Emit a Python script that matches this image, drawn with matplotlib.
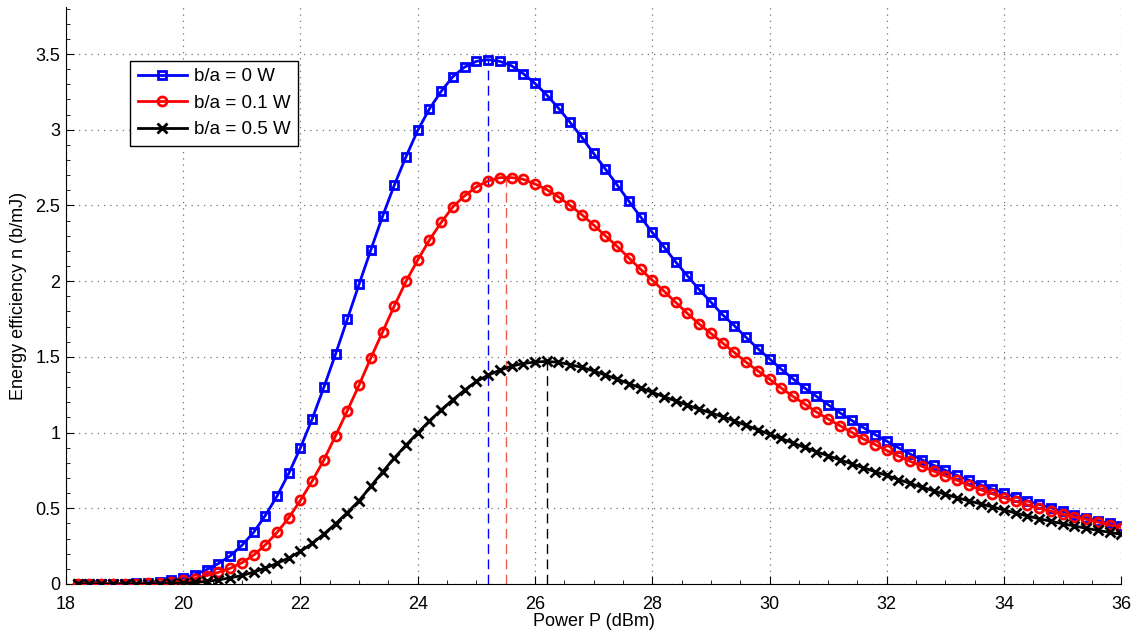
import numpy as np
import matplotlib
matplotlib.use("Agg")
import matplotlib.pyplot as plt
from matplotlib.ticker import MultipleLocator, FuncFormatter

plt.rcParams['font.family'] = ['Liberation Sans', 'DejaVu Sans']

# transmit power grid (dBm)
power_dbm = [18.2, 18.4, 18.6, 18.8, 19.0, 19.2, 19.4, 19.6, 19.8, 20.0,
             20.2, 20.4, 20.6, 20.8, 21.0, 21.2, 21.4, 21.6, 21.8, 22.0,
             22.2, 22.4, 22.6, 22.8, 23.0, 23.2, 23.4, 23.6, 23.8, 24.0,
             24.2, 24.4, 24.6, 24.8, 25.0, 25.2, 25.4, 25.6, 25.8, 26.0,
             26.2, 26.4, 26.6, 26.8, 27.0, 27.2, 27.4, 27.6, 27.8, 28.0,
             28.2, 28.4, 28.6, 28.8, 29.0, 29.2, 29.4, 29.6, 29.8, 30.0,
             30.2, 30.4, 30.6, 30.8, 31.0, 31.2, 31.4, 31.6, 31.8, 32.0,
             32.2, 32.4, 32.6, 32.8, 33.0, 33.2, 33.4, 33.6, 33.8, 34.0,
             34.2, 34.4, 34.6, 34.8, 35.0, 35.2, 35.4, 35.6, 35.8, 36.0]

# energy efficiency (b/mJ) for each b/a
ee_ba_0 = [0.000, 0.001, 0.001, 0.002, 0.003, 0.005, 0.008, 0.013, 0.024, 0.040,
           0.062, 0.095, 0.135, 0.185, 0.255, 0.340, 0.452, 0.580, 0.730, 0.900,
           1.090, 1.300, 1.520, 1.750, 1.980, 2.206, 2.428, 2.634, 2.822, 2.996,
           3.138, 3.254, 3.351, 3.414, 3.452, 3.463, 3.452, 3.423, 3.371, 3.306,
           3.230, 3.143, 3.048, 2.950, 2.844, 2.741, 2.636, 2.529, 2.425, 2.322,
           2.226, 2.127, 2.035, 1.945, 1.862, 1.778, 1.706, 1.629, 1.555, 1.487,
           1.419, 1.355, 1.294, 1.239, 1.184, 1.131, 1.081, 1.033, 0.987, 0.943,
           0.900, 0.858, 0.820, 0.784, 0.750, 0.717, 0.686, 0.656, 0.627, 0.600,
           0.575, 0.549, 0.525, 0.503, 0.479, 0.458, 0.438, 0.419, 0.400, 0.383]

ee_ba_01 = [0.000, 0.000, 0.001, 0.001, 0.002, 0.003, 0.005, 0.008, 0.014, 0.024,
            0.036, 0.055, 0.077, 0.103, 0.140, 0.190, 0.258, 0.340, 0.437, 0.553,
            0.680, 0.820, 0.980, 1.145, 1.314, 1.493, 1.664, 1.836, 1.998, 2.140,
            2.272, 2.388, 2.491, 2.564, 2.623, 2.662, 2.684, 2.684, 2.673, 2.642,
            2.605, 2.557, 2.500, 2.439, 2.371, 2.300, 2.230, 2.154, 2.079, 2.007,
            1.934, 1.860, 1.787, 1.717, 1.655, 1.592, 1.529, 1.465, 1.408, 1.353,
            1.294, 1.239, 1.189, 1.136, 1.090, 1.046, 1.002, 0.958, 0.921, 0.882,
            0.845, 0.810, 0.777, 0.745, 0.714, 0.685, 0.652, 0.623, 0.596, 0.570,
            0.546, 0.522, 0.500, 0.481, 0.460, 0.443, 0.427, 0.409, 0.390, 0.372]

ee_ba_05 = [0.000, 0.000, 0.000, 0.000, 0.001, 0.001, 0.002, 0.003, 0.004, 0.006,
            0.010, 0.017, 0.027, 0.040, 0.056, 0.078, 0.105, 0.136, 0.172, 0.215,
            0.268, 0.330, 0.398, 0.472, 0.550, 0.645, 0.740, 0.832, 0.917, 0.998,
            1.077, 1.150, 1.217, 1.280, 1.338, 1.379, 1.412, 1.439, 1.456, 1.466,
            1.470, 1.464, 1.449, 1.430, 1.407, 1.380, 1.353, 1.324, 1.295, 1.266,
            1.237, 1.209, 1.181, 1.155, 1.130, 1.105, 1.077, 1.048, 1.018, 0.989,
            0.961, 0.931, 0.902, 0.874, 0.847, 0.820, 0.794, 0.768, 0.742, 0.717,
            0.690, 0.664, 0.639, 0.615, 0.592, 0.570, 0.549, 0.529, 0.509, 0.489,
            0.468, 0.449, 0.431, 0.414, 0.398, 0.383, 0.368, 0.354, 0.341, 0.328]

labels = ['b/a = 0 W', 'b/a = 0.1 W', 'b/a = 0.5 W']

# optimal power and peak efficiency (dashed markers)
peak_power = [25.2, 25.5, 26.2]
peak_ee = [3.463, 2.684, 1.470]

fig = plt.figure(figsize=(11.43, 6.36), dpi=100)
ax = fig.add_axes([0.0577, 0.0818, 0.9233, 0.907])

series = [(ee_ba_0, 'b', 's', 5.5), (ee_ba_01, 'r', 'o', 6.5), (ee_ba_05, 'k', 'x', 7.5)]
for (vals, color, marker, ms), lab in zip(series, labels):
    ax.plot(power_dbm, vals, color=color, lw=2, marker=marker, ms=ms,
            mfc='none', mew=2, label=lab, zorder=3)

dash_colors = ['b', '#e8604c', 'k']
for px, py, c in zip(peak_power, peak_ee, dash_colors):
    ax.plot([px, px], [0, py], color=c, lw=1, linestyle=(0, (7, 4)), zorder=2)

ax.set_xlim(18, 36)
ax.set_ylim(0, 3.81)
ax.xaxis.set_major_locator(MultipleLocator(2))
ax.yaxis.set_major_locator(MultipleLocator(0.5))
ax.xaxis.set_minor_locator(MultipleLocator(0.5))
ax.yaxis.set_minor_locator(MultipleLocator(0.1))
ax.yaxis.set_major_formatter(FuncFormatter(lambda v, p: '%g' % v))
ax.tick_params(which='both', direction='in', labelsize=13, top=False, right=False)
ax.tick_params(which='major', length=6)
ax.tick_params(which='minor', length=3)
ax.tick_params(axis='x', which='major', pad=9)
ax.tick_params(axis='y', which='major', pad=4)

ax.grid(True, which='major', color='0.45', linestyle=(0, (1, 4)), linewidth=0.9)
ax.spines['top'].set_visible(False)
ax.spines['right'].set_visible(False)

ax.set_xlabel('Power P (dBm)', fontsize=13, labelpad=0)
ax.set_ylabel('Energy efficiency n (b/mJ)', fontsize=13, labelpad=6)

leg = ax.legend(loc='upper left', bbox_to_anchor=(0.061, 0.907), borderaxespad=0,
                fontsize=13.5, fancybox=False, framealpha=1, edgecolor='k',
                handlelength=2.6, labelspacing=0.5, borderpad=0.4, handletextpad=0.4)
leg.get_frame().set_linewidth(1)

fig.savefig('out.png', dpi=100)
